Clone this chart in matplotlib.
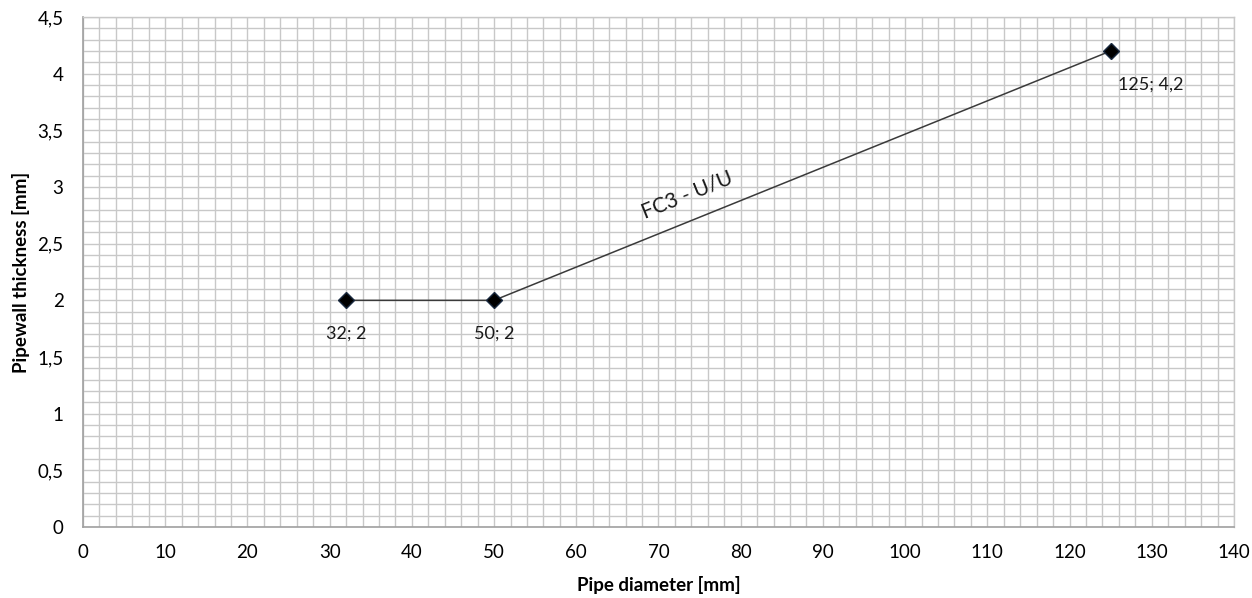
import matplotlib
matplotlib.use("Agg")
import matplotlib.pyplot as plt
from matplotlib.ticker import MultipleLocator, FuncFormatter

plt.rcParams['font.family'] = ['Lato', 'DejaVu Sans']

diameters = [32, 50, 125]
thickness = [2, 2, 4.2]
point_labels = ["32; 2", "50; 2", "125; 4,2"]
series_name = "FC3 - U/U"
x_label = "Pipe diameter [mm]"
y_label = "Pipewall thickness [mm]"

fig = plt.figure(figsize=(12.52, 5.98), dpi=100)
ax = fig.add_axes([0.0663, 0.1187, 0.9193, 0.8529])

ax.set_xlim(0, 140)
ax.set_ylim(0, 4.5)
ax.xaxis.set_major_locator(MultipleLocator(10))
ax.xaxis.set_minor_locator(MultipleLocator(2))
ax.yaxis.set_major_locator(MultipleLocator(0.5))
ax.yaxis.set_minor_locator(MultipleLocator(0.1))

fmt = FuncFormatter(lambda v, p: (f"{v:g}").replace(".", ","))
ax.xaxis.set_major_formatter(fmt)
ax.yaxis.set_major_formatter(fmt)

ax.grid(True, which='both', color='#c8c8c8', linewidth=1.0)
ax.set_axisbelow(True)
for s in ['top', 'right']:
    ax.spines[s].set_color('#c8c8c8')
    ax.spines[s].set_linewidth(1.0)
for s in ['left', 'bottom']:
    ax.spines[s].set_color('#a0a0a0')
    ax.spines[s].set_linewidth(1.2)

ax.tick_params(which='both', length=0, labelsize=13.5, colors='#000000')
ax.tick_params(axis='x', pad=12)
ax.tick_params(axis='y', pad=14)

ax.plot(diameters, thickness, color='#3a3a3a', linewidth=1.1,
        marker='D', markersize=8, markerfacecolor='black',
        markeredgecolor='#1a2a40', zorder=3)

offsets = [(0, -24), (0, -24), (29, -24)]
for x, y, lab, off in zip(diameters, thickness, point_labels, offsets):
    ax.annotate(lab, (x, y), xytext=off, textcoords='offset points',
                ha='center', va='center', fontsize=13, color='#1a1a1a')

ax.text(73.5, 2.93, series_name, rotation=22, rotation_mode='anchor',
        ha='center', va='center', fontsize=15, color='#1a1a1a')

ax.set_xlabel(x_label, fontsize=13.5, fontweight='bold', labelpad=11)
ax.set_ylabel(y_label, fontsize=13.5, fontweight='bold', labelpad=5)

fig.savefig("out.png", dpi=100)
